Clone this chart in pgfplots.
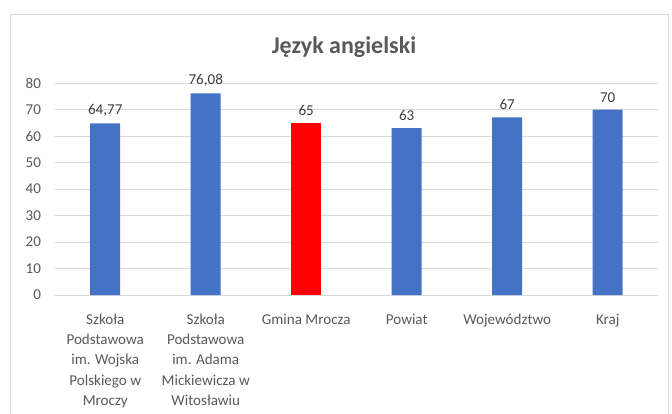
\documentclass[border=0pt]{standalone}
\usepackage{pgfplots}
\pgfplotsset{compat=1.18}
\usepackage{fontspec}
\setmainfont{Carlito}
\definecolor{barblue}{HTML}{4472C4}
\definecolor{barred}{HTML}{FF0000}
\definecolor{gridgray}{HTML}{D9D9D9}
\definecolor{ticktext}{HTML}{595959}
\definecolor{labeltext}{HTML}{404040}
\begin{document}
\begin{tikzpicture}
\useasboundingbox (0pt,0pt) rectangle (504pt,-310.5pt);
\draw[gridgray, line width=0.75pt] (7.5pt,-340pt) -- (7.5pt,-10.5pt) -- (501pt,-10.5pt) -- (501pt,-340pt);
\node[font=\fontsize{18}{22}\selectfont\bfseries, text=ticktext] at (258pt,-35pt) {Język angielski};
\begin{axis}[
  at={(41.25pt,-221.25pt)}, anchor=south west,
  width=452.25pt, height=159pt, scale only axis,
  xmin=-0.5, xmax=5.5, ymin=0, ymax=80,
  ytick={0,10,...,80},
  xtick={0,1,2,3,4,5},
  xticklabels={{Szkoła\\Podstawowa\\im. Wojska\\Polskiego w\\Mroczy},{Szkoła\\Podstawowa\\im. Adama\\Mickiewicza w\\Witosławiu},{Gmina Mrocza},{Powiat},{Województwo},{Kraj}},
  xticklabel style={align=center, font=\fontsize{11.3}{15.3}\selectfont, text=ticktext, yshift=-10.5pt},
  yticklabel style={font=\fontsize{11.3}{14}\selectfont, text=ticktext, xshift=-7pt},
  /pgf/number format/assume math mode=true,
  major tick length=0pt,
  axis line style={draw=none},
  ymajorgrids, grid style={gridgray, line width=0.75pt},
  ybar, bar width=22.5pt,
  nodes near coords,
  /pgf/number format/use comma,
  nodes near coords style={font=\fontsize{11.3}{14}\selectfont, text=labeltext, yshift=2pt, /pgf/number format/assume math mode=true},
  clip=false,
]
\addplot[fill=barblue, draw=none, bar shift=0pt] coordinates {(0,64.77) (1,76.08) (3,63) (4,67) (5,70)};
\addplot[fill=barred, draw=none, bar shift=0pt] coordinates {(2,65)};
\end{axis}
\end{tikzpicture}
\end{document}
